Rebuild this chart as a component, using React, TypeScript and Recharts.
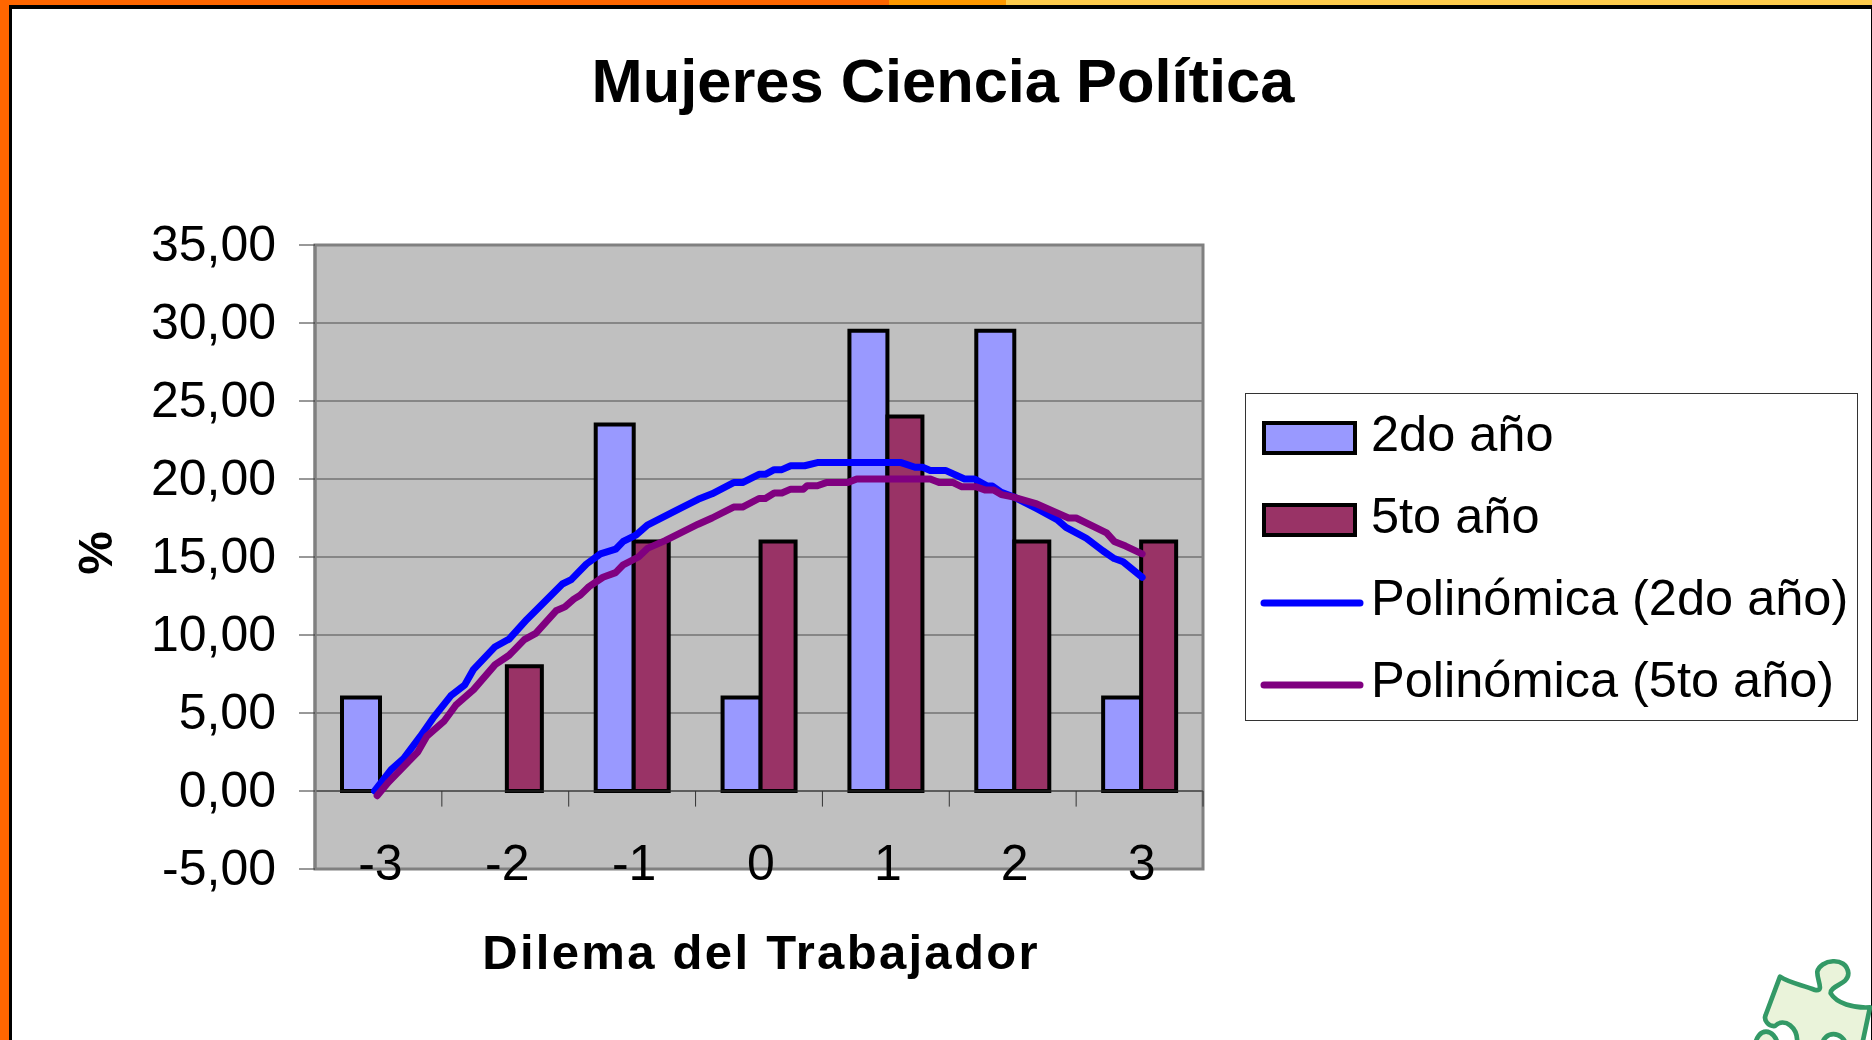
import React from 'react';
import {
  ComposedChart, Bar, Line, XAxis, YAxis, CartesianGrid, ReferenceLine, ReferenceArea, Legend,
} from 'recharts';

const FONT = '"Liberation Sans", Arial, sans-serif';

const categories = ['-3', '-2', '-1', '0', '1', '2', '3'];
const values2do = [6, 0, 23.5, 6, 29.5, 29.5, 6];
const values5to = [0, 8, 16, 16, 24, 16, 16];
const yTicks = [-5, 0, 5, 10, 15, 20, 25, 30, 35];
const boundaryTicks = [-2.5, -1.5, -0.5, 0.5, 1.5, 2.5, 3.5];

const trend2doX = [-3.03, -2.9, -2.8, -2.67, -2.57, -2.43, -2.32, -2.25, -2.08, -1.97, -1.83, -1.55, -1.48, -1.36, -1.25, -1.13, -1.07, -0.97, -0.88, -0.48, -0.37, -0.2, -0.13, 0, 0.05, 0.12, 0.18, 0.25, 0.36, 0.46, 1.12, 1.23, 1.29, 1.35, 1.47, 1.62, 1.7, 1.8, 1.84, 1.91, 2.01, 2.19, 2.35, 2.42, 2.58, 2.71, 2.8, 2.87, 3.02];
const trend2doY = [0, 1.37, 2.09, 3.5, 4.67, 6.1, 6.8, 7.8, 9.25, 9.74, 11, 13.27, 13.55, 14.55, 15.2, 15.5, 16, 16.4, 17.05, 18.7, 19.05, 19.77, 19.77, 20.3, 20.3, 20.6, 20.6, 20.85, 20.85, 21.05, 21.05, 20.75, 20.75, 20.55, 20.55, 20, 20, 19.55, 19.55, 19.15, 18.85, 18.1, 17.4, 16.9, 16.2, 15.4, 14.9, 14.7, 13.7];
const trend5toX = [-3.01, -2.92, -2.69, -2.62, -2.48, -2.39, -2.25, -2.08, -1.97, -1.85, -1.76, -1.6, -1.53, -1.46, -1.41, -1.34, -1.23, -1.13, -1.07, -0.95, -0.88, -0.74, -0.48, -0.37, -0.2, -0.13, 0, 0.05, 0.12, 0.18, 0.25, 0.35, 0.38, 0.46, 0.53, 0.7, 0.77, 1.35, 1.42, 1.53, 1.6, 1.71, 1.78, 1.85, 1.91, 2, 2.19, 2.44, 2.5, 2.74, 2.8, 2.89, 3.02];
const trend5toY = [-0.3, 0.57, 2.5, 3.5, 4.5, 5.5, 6.5, 8.1, 8.7, 9.7, 10.1, 11.55, 11.8, 12.3, 12.55, 13.1, 13.7, 14, 14.5, 15, 15.55, 16.05, 17.1, 17.5, 18.2, 18.2, 18.75, 18.75, 19.1, 19.1, 19.35, 19.35, 19.57, 19.57, 19.77, 19.77, 20, 20, 19.77, 19.77, 19.5, 19.5, 19.3, 19.3, 19, 18.85, 18.4, 17.5, 17.5, 16.55, 16, 15.7, 15.2];

const seriesNames = ['2do año', '5to año', 'Polinómica (2do año)', 'Polinómica (5to año)'];
const seriesColors = ['#9999FF', '#993366', '#0000FF', '#800080'];

const barData = categories.map((c, i) => ({ cat: c, a: values2do[i], b: values5to[i] }));
const trend2do = trend2doX.map((x, i) => ({ x, y: trend2doY[i] }));
const trend5to = trend5toX.map((x, i) => ({ x, y: trend5toY[i] }));

const renderCategoryTick = ({ x, y, payload }: any) => (
  <text x={x + 2} y={y + 3} textAnchor="middle" fontFamily={FONT} fontSize={50} fill="#000">
    {payload.value}
  </text>
);

const LegendBox = () => (
  <svg width={613} height={328} style={{ display: 'block' }}>
    <rect x={0.5} y={0.5} width={612} height={327} fill="#fff" stroke="#333" strokeWidth={1} />
    {seriesNames.map((name, i) => {
      const textY = [58, 140, 222, 304][i];
      const markY = [30, 112, 210, 292][i];
      return (
        <g key={name}>
          {i < 2 ? (
            <rect x={19} y={markY} width={91} height={30} fill={seriesColors[i]} stroke="#000" strokeWidth={4} />
          ) : (
            <line x1={19} x2={115} y1={markY} y2={markY} stroke={seriesColors[i]} strokeWidth={7} strokeLinecap="round" />
          )}
          <text x={126} y={textY} fontFamily={FONT} fontSize={50.5} fill="#000">{name}</text>
        </g>
      );
    })}
  </svg>
);

const Frame = () => (
  <>
    <div style={{ position: 'absolute', left: 0, top: 0, width: 889, height: 5, background: '#FF6600' }} />
    <div style={{ position: 'absolute', left: 889, top: 0, width: 117, height: 5, background: '#FF9900' }} />
    <div style={{ position: 'absolute', left: 1006, top: 0, width: 866, height: 5, background: '#FFCC4D' }} />
    <div style={{ position: 'absolute', left: 0, top: 0, width: 9, height: 1040, background: '#FF6600' }} />
    <div style={{ position: 'absolute', left: 9, top: 5, width: 1863, height: 4, background: '#000' }} />
    <div style={{ position: 'absolute', left: 9, top: 5, width: 3, height: 1035, background: '#000' }} />
    <div style={{ position: 'absolute', left: 1871, top: 5, width: 1, height: 1035, background: '#000' }} />
    <svg style={{ position: 'absolute', left: 1700, top: 920 }} width={172} height={120} viewBox="0 0 516 360">
      <path
        d="M240 170 C270 190 310 195 345 210 C375 215 350 180 352 155 C358 120 440 105 445 160 C445 195 390 195 392 220 C410 250 460 265 510 262 L485 380 L440 380 C430 330 370 330 365 380 L235 380 C225 320 170 320 165 380 L290 380 C300 320 250 290 225 318 C205 320 190 300 197 285 Z"
        fill="#EAF3DA"
        stroke="#339966"
        strokeWidth={14}
        strokeLinejoin="round"
      />
    </svg>
  </>
);

export default function App() {
  return (
    <div style={{ position: 'absolute', left: 0, top: 0, width: 1872, height: 1040, overflow: 'hidden', background: '#fff' }}>
      <Frame />
      <div style={{ position: 'absolute', left: 0, top: 0 }}>
        <ComposedChart
          width={1872}
          height={1040}
          data={barData}
          barGap={0}
          margin={{ top: 245, right: 669, bottom: 131, left: 0 }}
        >
          <text x={943} y={102} textAnchor="middle" fontFamily={FONT} fontWeight="bold" fontSize={61.4} fill="#000">
            Mujeres Ciencia Política
          </text>
          <text x={761} y={969} textAnchor="middle" fontFamily={FONT} fontWeight="bold" fontSize={49} letterSpacing={2.3} fill="#000">
            Dilema del Trabajador
          </text>
          <text x={112} y={553} textAnchor="middle" transform="rotate(-90 112 553)" fontFamily={FONT} fontWeight="bold" fontSize={49} fill="#000">
            %
          </text>
          <CartesianGrid horizontal vertical={false} fill="#C0C0C0" stroke="#4d4d4d" strokeWidth={1} />
          <XAxis
            dataKey="cat"
            type="category"
            axisLine={false}
            tickLine={false}
            tick={renderCategoryTick}
            interval={0}
            height={40}
          />
          <XAxis xAxisId="trend" dataKey="x" type="number" domain={[-3.5, 3.5]} hide allowDuplicatedCategory />
          <YAxis
            type="number"
            width={315}
            domain={[-5, 35]}
            ticks={yTicks}
            interval={0}
            tickSize={16}
            tickMargin={23}
            tickFormatter={(v: number) => v.toFixed(2).replace('.', ',')}
            tick={{ fontFamily: FONT, fontSize: 50, fill: '#000', dy: -2 }}
            axisLine={{ stroke: '#808080', strokeWidth: 3 }}
            tickLine={{ stroke: '#333', strokeWidth: 1 }}
          />
          <ReferenceArea xAxisId="trend" x1={-3.5} x2={3.5} y1={-5} y2={35} fill="none" stroke="#808080" strokeWidth={3} />
          <ReferenceLine y={0} xAxisId="trend" stroke="#333" strokeWidth={1} />
          {boundaryTicks.map((t) => (
            <ReferenceLine
              key={t}
              xAxisId="trend"
              segment={[{ x: t, y: 0 }, { x: t, y: -1 }]}
              stroke="#333"
              strokeWidth={1}
            />
          ))}
          <Bar dataKey="a" name={seriesNames[0]} barSize={38} fill={seriesColors[0]} stroke="#000" strokeWidth={4} isAnimationActive={false} />
          <Bar dataKey="b" name={seriesNames[1]} barSize={35} fill={seriesColors[1]} stroke="#000" strokeWidth={4} isAnimationActive={false} />
          <Line xAxisId="trend" data={trend2do} dataKey="y" name={seriesNames[2]} stroke={seriesColors[2]} strokeWidth={7} dot={false} type="linear" isAnimationActive={false} strokeLinecap="round" strokeLinejoin="round" />
          <Line xAxisId="trend" data={trend5to} dataKey="y" name={seriesNames[3]} stroke={seriesColors[3]} strokeWidth={7} dot={false} type="linear" isAnimationActive={false} strokeLinecap="round" strokeLinejoin="round" />
          <Legend
            layout="horizontal"
            verticalAlign="middle"
            align="center"
            content={<LegendBox />}
            wrapperStyle={{ left: 1245, top: 393, width: 613, height: 328, margin: 0, padding: 0 }}
          />
        </ComposedChart>
      </div>
    </div>
  );
}
